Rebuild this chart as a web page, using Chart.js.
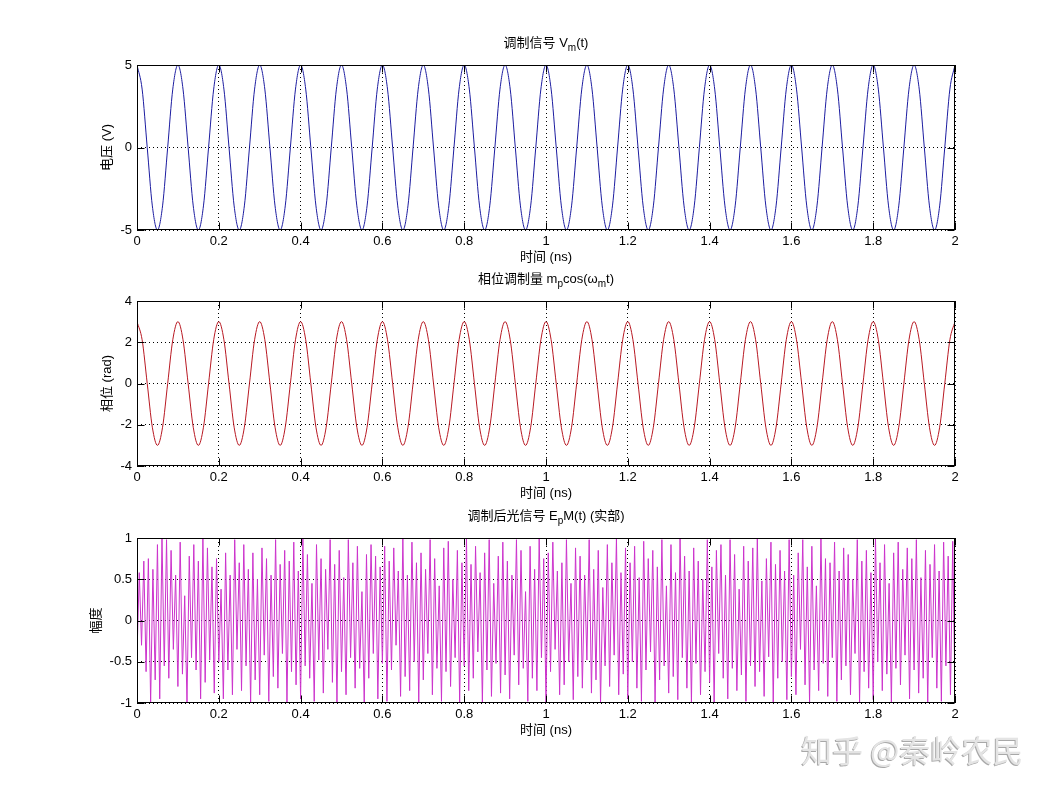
<!DOCTYPE html>
<html>
<head>
<meta charset="utf-8">
<script src="https://cdn.jsdelivr.net/npm/chart.js@4.4.0/dist/chart.umd.min.js"></script>
<style>
body { margin: 0; background: #fff; width: 1055px; height: 790px; position: relative; overflow: hidden; }
.plot { position: absolute; left: 0; width: 1055px; height: 240px; }
#mark { position: absolute; left: 801px; top: 726px; font-size: 31px; font-family: "Noto Sans CJK SC", sans-serif;
        color: #e4e4e4; text-shadow: -1px 1px 0 #a8a8a8; white-space: nowrap; }
</style>
</head>
<body>
<div class="plot" style="top:30px"><canvas id="c1" width="1055" height="240"></canvas></div>
<div class="plot" style="top:266px"><canvas id="c2" width="1055" height="240"></canvas></div>
<div class="plot" style="top:503px"><canvas id="c3" width="1055" height="240"></canvas></div>
<div id="mark">知乎 @秦岭农民</div>
<script>
// tick labels
var timeTicks = [0, 0.2, 0.4, 0.6, 0.8, 1, 1.2, 1.4, 1.6, 1.8, 2];
var voltTicks = [-5, 0, 5];
var phaseTicks = [-4, -2, 0, 2, 4];
var ampTicks = [-1, -0.5, 0, 0.5, 1];

// sample spacing (ns) of the series below
var smoothStep = 0.0125;
var fieldStep = 2 / 360;

// modulating signal Vm(t), one row per 0.1 ns
var voltage = [
  5, 3.54, 0, -3.54, -5, -3.54, 0, 3.54,
  5, 3.54, 0, -3.54, -5, -3.54, 0, 3.54,
  5, 3.54, 0, -3.54, -5, -3.54, 0, 3.54,
  5, 3.54, 0, -3.54, -5, -3.54, 0, 3.54,
  5, 3.54, 0, -3.54, -5, -3.54, 0, 3.54,
  5, 3.54, 0, -3.54, -5, -3.54, 0, 3.54,
  5, 3.54, 0, -3.54, -5, -3.54, 0, 3.54,
  5, 3.54, 0, -3.54, -5, -3.54, 0, 3.54,
  5, 3.54, 0, -3.54, -5, -3.54, 0, 3.54,
  5, 3.54, 0, -3.54, -5, -3.54, 0, 3.54,
  5, 3.54, 0, -3.54, -5, -3.54, 0, 3.54,
  5, 3.54, 0, -3.54, -5, -3.54, 0, 3.54,
  5, 3.54, 0, -3.54, -5, -3.54, 0, 3.54,
  5, 3.54, 0, -3.54, -5, -3.54, 0, 3.54,
  5, 3.54, 0, -3.54, -5, -3.54, 0, 3.54,
  5, 3.54, 0, -3.54, -5, -3.54, 0, 3.54,
  5, 3.54, 0, -3.54, -5, -3.54, 0, 3.54,
  5, 3.54, 0, -3.54, -5, -3.54, 0, 3.54,
  5, 3.54, 0, -3.54, -5, -3.54, 0, 3.54,
  5, 3.54, 0, -3.54, -5, -3.54, 0, 3.54,
  5
];

// phase mp*cos(wm t)
var phase = [
  3, 2.12, 0, -2.12, -3, -2.12, 0, 2.12,
  3, 2.12, 0, -2.12, -3, -2.12, 0, 2.12,
  3, 2.12, 0, -2.12, -3, -2.12, 0, 2.12,
  3, 2.12, 0, -2.12, -3, -2.12, 0, 2.12,
  3, 2.12, 0, -2.12, -3, -2.12, 0, 2.12,
  3, 2.12, 0, -2.12, -3, -2.12, 0, 2.12,
  3, 2.12, 0, -2.12, -3, -2.12, 0, 2.12,
  3, 2.12, 0, -2.12, -3, -2.12, 0, 2.12,
  3, 2.12, 0, -2.12, -3, -2.12, 0, 2.12,
  3, 2.12, 0, -2.12, -3, -2.12, 0, 2.12,
  3, 2.12, 0, -2.12, -3, -2.12, 0, 2.12,
  3, 2.12, 0, -2.12, -3, -2.12, 0, 2.12,
  3, 2.12, 0, -2.12, -3, -2.12, 0, 2.12,
  3, 2.12, 0, -2.12, -3, -2.12, 0, 2.12,
  3, 2.12, 0, -2.12, -3, -2.12, 0, 2.12,
  3, 2.12, 0, -2.12, -3, -2.12, 0, 2.12,
  3, 2.12, 0, -2.12, -3, -2.12, 0, 2.12,
  3, 2.12, 0, -2.12, -3, -2.12, 0, 2.12,
  3, 2.12, 0, -2.12, -3, -2.12, 0, 2.12,
  3, 2.12, 0, -2.12, -3, -2.12, 0, 2.12,
  3
];

// real part of modulated optical field, one row per 0.1 ns
var field = [
  -0.42, 0.58, -0.3, 0.72, -0.62, 0.75, -1, 0.62, -0.72, 0.92, -0.95, 1, -0.55, 0.98, -0.7, 0.85, -0.35, 0.55,
  -0.8, 0.95, -0.65, 0.3, -1, 0.78, -0.45, 0.92, -0.6, 0.72, -0.95, 1, -0.75, 0.88, -0.48, 0.65, -0.88, 0.75,
  -0.5, 0.38, -0.95, 0.82, -0.6, 0.55, -0.9, 0.98, -0.35, 0.7, -0.85, 0.92, -0.55, 0.62, -1, 0.82, -0.72, 0.5,
  -0.9, 0.88, -0.42, 0.75, -0.98, 0.55, -0.68, 0.98, -0.82, 0.68, -0.4, 0.85, -1, 0.72, -0.62, 0.95, -0.78, 0.6,
  -0.95, 1, -0.55, 0.8, -0.7, 0.45, -0.98, 0.92, -0.48, 0.75, -0.88, 0.62, -0.35, 0.98, -0.75, 0.68, -1, 0.85,
  -0.62, 0.52, -0.9, 0.98, -0.45, 0.7, -0.82, 0.9, -0.58, 0.35, -1, 0.8, -0.7, 0.92, -0.4, 0.78, -0.95, 0.65,
  -0.52, 0.9, -0.98, 0.72, -0.6, 0.88, -0.3, 0.6, -0.92, 1, -0.68, 0.55, -0.85, 0.95, -0.5, 0.7, -1, 0.82,
  -0.72, 0.62, -0.4, 0.98, -0.9, 0.75, -0.58, 0.42, -0.98, 0.88, -0.62, 0.96, -0.8, 0.5, -0.45, 0.85, -1, 0.7,
  -0.55, 1, -0.85, 0.68, -0.7, 0.9, -0.38, 0.58, -1, 0.82, -0.6, 0.98, -0.92, 0.45, -0.52, 0.78, -0.88, 0.95,
  -0.66, 0.72, -0.95, 0.55, -0.42, 0.98, -0.78, 0.85, -0.58, 0.35, -0.98, 0.9, -0.7, 0.62, -0.85, 1, -0.45, 0.75,
  -1, 0.82, -0.62, 0.95, -0.35, 0.6, -0.9, 0.7, -0.78, 0.98, -0.5, 0.45, -0.96, 0.88, -0.68, 0.78, -0.82, 0.55,
  -0.48, 0.98, -0.88, 0.62, -0.72, 0.85, -1, 0.4, -0.55, 0.92, -0.8, 0.7, -0.42, 1, -0.9, 0.58, -0.65, 0.88,
  -0.95, 0.7, -0.5, 0.9, -0.82, 0.52, -0.98, 0.96, -0.6, 0.75, -0.38, 0.85, -1, 0.65, -0.72, 0.98, -0.55, 0.42,
  -0.88, 0.92, -0.68, 0.58, -0.96, 1, -0.45, 0.78, -0.82, 0.6, -1, 0.88, -0.52, 0.72, -0.9, 0.5, -0.62, 0.98,
  -0.75, 0.65, -1, 0.85, -0.4, 0.92, -0.7, 0.55, -0.95, 0.98, -0.58, 0.8, -0.85, 0.38, -0.66, 0.9, -0.98, 0.72,
  -0.55, 0.88, -0.8, 1, -0.62, 0.48, -0.92, 0.75, -0.44, 0.95, -1, 0.68, -0.7, 0.85, -0.5, 0.6, -0.96, 0.98,
  -0.68, 0.55, -0.9, 0.82, -0.35, 0.98, -0.78, 0.65, -1, 0.9, -0.6, 0.42, -0.85, 1, -0.52, 0.75, -0.92, 0.7,
  -0.45, 0.95, -0.98, 0.6, -0.72, 0.88, -0.55, 0.8, -0.9, 0.5, -0.4, 0.98, -1, 0.72, -0.62, 0.85, -0.82, 0.58,
  -0.96, 1, -0.5, 0.7, -0.85, 0.92, -0.65, 0.45, -1, 0.82, -0.58, 0.95, -0.78, 0.62, -0.42, 0.88, -0.95, 0.75,
  -0.6, 0.98, -0.88, 0.52, -0.7, 0.85, -1, 0.68, -0.45, 0.92, -0.82, 0.6, -0.98, 0.95, -0.55, 0.78, -0.9, 0.96,
  -0.9
];

var fontFamily = '"Liberation Sans", "Noto Sans CJK SC", sans-serif';

// matlab style box, inward ticks and a title with subscripts
var matlabAxes = {
  id: 'matlabAxes',
  afterDraw: function (chart, args, opts) {
    var ctx = chart.ctx, a = chart.chartArea;
    var xs = chart.scales.x, ys = chart.scales.y;
    var l = Math.round(a.left) + 0.5, r = Math.round(a.right) - 0.5;
    var t = Math.round(a.top) + 0.5, b = Math.round(a.bottom) - 0.5;
    ctx.save();
    ctx.strokeStyle = '#000';
    ctx.lineWidth = 1;
    ctx.strokeRect(l, t, r - l, b - t);
    ctx.beginPath();
    xs.ticks.forEach(function (tk) {
      var px = Math.round(xs.getPixelForValue(tk.value)) + 0.5;
      ctx.moveTo(px, b); ctx.lineTo(px, b - 7);
      ctx.moveTo(px, t); ctx.lineTo(px, t + 7);
    });
    ys.ticks.forEach(function (tk) {
      var py = Math.round(ys.getPixelForValue(tk.value)) + 0.5;
      ctx.moveTo(l, py); ctx.lineTo(l + 7, py);
      ctx.moveTo(r, py); ctx.lineTo(r - 7, py);
    });
    ctx.stroke();

    var parts = opts.title || [];
    var width = 0;
    parts.forEach(function (p) {
      ctx.font = (p[1] ? '10px ' : '13px ') + fontFamily;
      width += ctx.measureText(p[0]).width;
    });
    var x = (a.left + a.right) / 2 - width / 2, y = a.top - 22;
    ctx.fillStyle = '#000';
    ctx.textAlign = 'left';
    ctx.textBaseline = 'middle';
    parts.forEach(function (p) {
      ctx.font = (p[1] ? '10px ' : '13px ') + fontFamily;
      ctx.fillText(p[0], x, p[1] ? y + 5 : y);
      x += ctx.measureText(p[0]).width;
    });
    ctx.restore();
  }
};

function makePlot(id, series, step, color, yTicks, yTitle, yTitleX, title, smooth) {
  var points = series.map(function (v, i) { return { x: i * step, y: v }; });
  var tickFont = { family: fontFamily, size: 13 };
  return new Chart(document.getElementById(id), {
    type: 'line',
    data: {
      datasets: [{
        data: points,
        borderColor: color,
        borderWidth: 1,
        pointRadius: 0,
        fill: false,
        tension: 0,
        cubicInterpolationMode: smooth ? 'monotone' : 'default'
      }]
    },
    options: {
      responsive: false,
      animation: false,
      events: [],
      layout: { padding: { left: 87, right: 100, top: 35, bottom: 0 } },
      plugins: {
        legend: { display: false },
        tooltip: { enabled: false },
        matlabAxes: { title: title }
      },
      scales: {
        x: {
          type: 'linear', min: 0, max: 2,
          afterBuildTicks: function (s) { s.ticks = timeTicks.map(function (v) { return { value: v }; }); },
          afterFit: function (s) { s.height = 40; },
          grid: { color: '#000', lineWidth: 1, drawTicks: false },
          border: { display: false, dash: [1, 3] },
          ticks: { padding: 4, color: '#000', font: tickFont, maxRotation: 0, autoSkip: false,
                   callback: function (v) { return String(v); } },
          title: { display: true, text: '时间 (ns)', color: '#000', font: tickFont, padding: { top: 0, bottom: 5 } }
        },
        y: {
          type: 'linear', min: yTicks[0], max: yTicks[yTicks.length - 1],
          afterBuildTicks: function (s) { s.ticks = yTicks.map(function (v) { return { value: v }; }); },
          afterFit: function (s) { s.width = 50; },
          grid: { color: '#000', lineWidth: 1, drawTicks: false },
          border: { display: false, dash: [1, 3] },
          ticks: { padding: 5, color: '#000', font: tickFont, autoSkip: false,
                   callback: function (v) { return String(v); } },
          title: { display: true, text: yTitle, color: '#000', font: tickFont,
                   padding: { top: yTitleX - 87 - 7.8, bottom: 0 } }
        }
      }
    },
    plugins: [matlabAxes]
  });
}

makePlot('c1', voltage, smoothStep, '#1c1ca0', voltTicks, '电压 (V)', 107,
  [['调制信号 V', 0], ['m', 1], ['(t)', 0]], true);
makePlot('c2', phase, smoothStep, '#b81822', phaseTicks, '相位 (rad)', 107,
  [['相位调制量 m', 0], ['p', 1], ['cos(ω', 0], ['m', 1], ['t)', 0]], true);
makePlot('c3', field, fieldStep, '#cc33cc', ampTicks, '幅度', 96,
  [['调制后光信号 E', 0], ['p', 1], ['M(t) (实部)', 0]], false);
</script>
</body>
</html>
